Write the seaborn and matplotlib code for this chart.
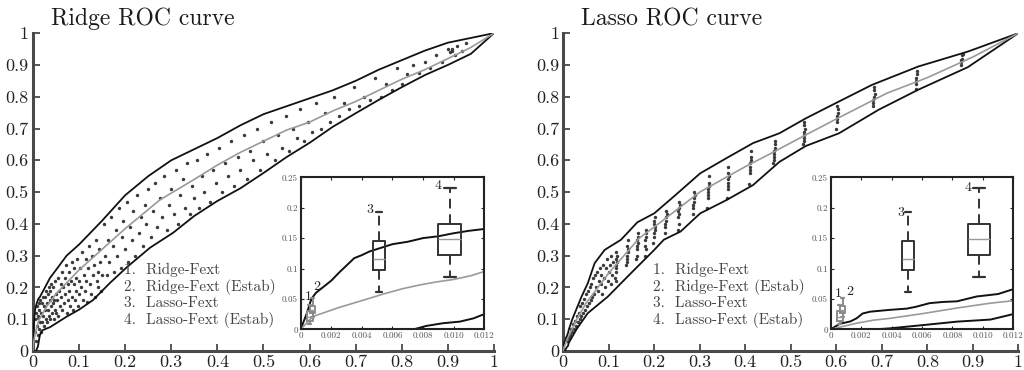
import numpy as np
import matplotlib
matplotlib.use("Agg")
import matplotlib.pyplot as plt
import seaborn as sns

# ---- curvas ROC (FPR, TPR): envolvente superior, inferior y media ----
ridge_up_x = [0, 0.0004, 0.0007, 0.001, 0.0015, 0.002, 0.0025, 0.003, 0.0035, 0.004, 0.0045, 0.005, 0.006,
              0.007, 0.008, 0.009, 0.01, 0.011, 0.012, 0.015, 0.025, 0.037, 0.05, 0.073, 0.1, 0.15, 0.2, 0.25,
              0.3, 0.35, 0.4, 0.45, 0.5, 0.55, 0.6, 0.65, 0.7, 0.75, 0.8, 0.85, 0.9, 0.95, 1]
ridge_up_y = [0, 0.026, 0.05, 0.06, 0.07, 0.08, 0.093, 0.105, 0.117, 0.122, 0.128, 0.132, 0.14,
              0.144, 0.15, 0.153, 0.158, 0.162, 0.165, 0.17, 0.197, 0.23, 0.255, 0.3, 0.335, 0.41, 0.49, 0.55,
              0.6, 0.635, 0.67, 0.71, 0.745, 0.77, 0.795, 0.82, 0.85, 0.885, 0.915, 0.945, 0.97, 0.985, 1]
ridge_lo_x = [0, 0.0074, 0.0082, 0.0093, 0.0104, 0.0113, 0.012, 0.015, 0.02, 0.037, 0.073, 0.1, 0.13, 0.167,
              0.204, 0.254, 0.304, 0.35, 0.4, 0.45, 0.5, 0.55, 0.6, 0.65, 0.7, 0.75, 0.8, 0.85, 0.9, 0.95, 1]
ridge_lo_y = [0, 0, 0.0055, 0.01, 0.0126, 0.018, 0.025, 0.05, 0.065, 0.075, 0.108, 0.13, 0.16, 0.214,
              0.264, 0.325, 0.372, 0.425, 0.472, 0.512, 0.56, 0.61, 0.655, 0.705, 0.748, 0.79, 0.83, 0.868,
              0.9, 0.935, 1]
ridge_mean_x = [0, 0.0008, 0.0024, 0.0045, 0.0054, 0.0067, 0.0078, 0.0089, 0.01, 0.0111, 0.012, 0.03, 0.05,
                0.1, 0.15, 0.2, 0.275, 0.35, 0.4, 0.45, 0.5, 0.55, 0.6, 0.65, 0.7, 0.75, 0.8, 0.85, 0.9, 0.95, 1]
ridge_mean_y = [0, 0.021, 0.035, 0.051, 0.058, 0.067, 0.073, 0.078, 0.082, 0.088, 0.095, 0.14, 0.18,
                0.255, 0.32, 0.385, 0.475, 0.54, 0.585, 0.625, 0.66, 0.695, 0.72, 0.755, 0.785, 0.82, 0.855,
                0.885, 0.92, 0.955, 1]

lasso_up_x = [0, 0.0006, 0.0013, 0.0017, 0.0021, 0.0026, 0.0039, 0.005, 0.0056, 0.0065, 0.0074, 0.0083,
              0.0096, 0.011, 0.012, 0.02, 0.04, 0.054, 0.069, 0.091, 0.127, 0.163, 0.2, 0.243, 0.301, 0.359,
              0.417, 0.475, 0.533, 0.599, 0.678, 0.78, 0.889, 1]
lasso_up_y = [0, 0.009, 0.013, 0.018, 0.026, 0.029, 0.032, 0.034, 0.037, 0.043, 0.045, 0.046,
              0.054, 0.058, 0.066, 0.1, 0.17, 0.213, 0.276, 0.318, 0.35, 0.405, 0.433, 0.486, 0.559, 0.607,
              0.654, 0.685, 0.732, 0.78, 0.837, 0.895, 0.942, 1]
lasso_lo_x = [0, 0.003, 0.0039, 0.0061, 0.0083, 0.0105, 0.012, 0.018, 0.03, 0.054, 0.098, 0.149, 0.2, 0.221,
              0.258, 0.301, 0.359, 0.417, 0.475, 0.533, 0.606, 0.693, 0.78, 0.889, 1]
lasso_lo_y = [0, 0, 0.0016, 0.007, 0.0126, 0.016, 0.025, 0.04, 0.07, 0.119, 0.171, 0.245, 0.318, 0.35,
              0.376, 0.433, 0.475, 0.522, 0.595, 0.645, 0.685, 0.759, 0.822, 0.893, 1]
lasso_mean_x = [0, 0.0017, 0.0028, 0.0039, 0.0061, 0.0083, 0.0105, 0.012, 0.03, 0.05, 0.1, 0.167, 0.2, 0.3,
                0.4, 0.457, 0.5, 0.6, 0.711, 0.8, 0.9, 1]
lasso_mean_y = [0, 0.01, 0.015, 0.018, 0.026, 0.035, 0.043, 0.047, 0.1, 0.15, 0.245, 0.355, 0.39, 0.5,
                0.58, 0.622, 0.655, 0.73, 0.811, 0.86, 0.925, 1]

# ---- puntos individuales (FPR, TPR) ----
ridge_pts = [
    (0.004, 0.06), (0.005, 0.1), (0.006, 0.03), (0.007, 0.12), (0.008, 0.08), (0.009, 0.14), (0.01, 0.05),
    (0.011, 0.11), (0.012, 0.15), (0.013, 0.07), (0.014, 0.13), (0.015, 0.09), (0.016, 0.16), (0.017, 0.06),
    (0.018, 0.12), (0.019, 0.15), (0.02, 0.09), (0.021, 0.17), (0.022, 0.11), (0.023, 0.14),
    (0.025, 0.08), (0.026, 0.17), (0.027, 0.13), (0.028, 0.19), (0.029, 0.1), (0.03, 0.15), (0.031, 0.09),
    (0.032, 0.18), (0.033, 0.13), (0.034, 0.2), (0.035, 0.11), (0.036, 0.16), (0.037, 0.19), (0.038, 0.1),
    (0.039, 0.14), (0.04, 0.21), (0.041, 0.12), (0.042, 0.17), (0.043, 0.15), (0.044, 0.2), (0.045, 0.1),
    (0.046, 0.16), (0.047, 0.13), (0.048, 0.22), (0.049, 0.18), (0.05, 0.12),
    (0.052, 0.16), (0.054, 0.23), (0.055, 0.11), (0.057, 0.19), (0.058, 0.14), (0.06, 0.21), (0.061, 0.17),
    (0.063, 0.25), (0.064, 0.13), (0.066, 0.2), (0.067, 0.15), (0.069, 0.23), (0.07, 0.18), (0.072, 0.27),
    (0.073, 0.12), (0.075, 0.21), (0.076, 0.16), (0.078, 0.25), (0.079, 0.19), (0.081, 0.14), (0.082, 0.22),
    (0.084, 0.28), (0.085, 0.17), (0.087, 0.13), (0.088, 0.21), (0.09, 0.26), (0.091, 0.16), (0.093, 0.23),
    (0.094, 0.19), (0.096, 0.29), (0.097, 0.14), (0.099, 0.22), (0.1, 0.18),
    (0.102, 0.26), (0.104, 0.2), (0.106, 0.31), (0.108, 0.16), (0.11, 0.24), (0.112, 0.19), (0.114, 0.29),
    (0.116, 0.22), (0.118, 0.155), (0.12, 0.26), (0.122, 0.33), (0.124, 0.21), (0.126, 0.18), (0.128, 0.3),
    (0.13, 0.24), (0.132, 0.27), (0.134, 0.17), (0.136, 0.35), (0.138, 0.22), (0.14, 0.25), (0.142, 0.2),
    (0.144, 0.32), (0.146, 0.28), (0.148, 0.19), (0.15, 0.24),
    (0.154, 0.4), (0.157, 0.3), (0.16, 0.24), (0.163, 0.35), (0.166, 0.28), (0.17, 0.42), (0.173, 0.33),
    (0.176, 0.25), (0.18, 0.38), (0.183, 0.3), (0.186, 0.45), (0.19, 0.26), (0.193, 0.36), (0.196, 0.41),
    (0.2, 0.32), (0.203, 0.47), (0.207, 0.28), (0.21, 0.39), (0.214, 0.35), (0.218, 0.44), (0.222, 0.3),
    (0.226, 0.49), (0.23, 0.37), (0.234, 0.42), (0.238, 0.33), (0.242, 0.46), (0.246, 0.4), (0.25, 0.51),
    (0.255, 0.36), (0.26, 0.44), (0.265, 0.53), (0.27, 0.39), (0.275, 0.48), (0.28, 0.42), (0.285, 0.55),
    (0.29, 0.38), (0.295, 0.46), (0.3, 0.51), (0.305, 0.43), (0.31, 0.57), (0.315, 0.4), (0.32, 0.49),
    (0.325, 0.54), (0.33, 0.45), (0.335, 0.59), (0.34, 0.43), (0.345, 0.52), (0.35, 0.48), (0.355, 0.6),
    (0.36, 0.45), (0.366, 0.55), (0.372, 0.5), (0.378, 0.62), (0.384, 0.47), (0.39, 0.57), (0.396, 0.53),
    (0.403, 0.64), (0.41, 0.5), (0.417, 0.59), (0.424, 0.55), (0.43, 0.66), (0.437, 0.52), (0.444, 0.61),
    (0.45, 0.57), (0.457, 0.68), (0.464, 0.54), (0.47, 0.63), (0.478, 0.6), (0.485, 0.7), (0.492, 0.57),
    (0.5, 0.66), (0.508, 0.62), (0.516, 0.72), (0.524, 0.6), (0.532, 0.68), (0.54, 0.64), (0.548, 0.74),
    (0.556, 0.63), (0.564, 0.7), (0.572, 0.67), (0.58, 0.76), (0.588, 0.66), (0.596, 0.72),
    (0.606, 0.69), (0.615, 0.78), (0.624, 0.7), (0.634, 0.75), (0.644, 0.72), (0.654, 0.8), (0.664, 0.74),
    (0.674, 0.78), (0.685, 0.76), (0.696, 0.83), (0.707, 0.77), (0.718, 0.8), (0.73, 0.79), (0.742, 0.86),
    (0.754, 0.8), (0.766, 0.84), (0.778, 0.82), (0.79, 0.89), (0.8, 0.84),
    (0.812, 0.87), (0.825, 0.9), (0.838, 0.875), (0.85, 0.91), (0.862, 0.89), (0.875, 0.93), (0.888, 0.91),
    (0.9, 0.95), (0.905, 0.94), (0.908, 0.945), (0.91, 0.95), (0.915, 0.93), (0.92, 0.96), (0.93, 0.945),
    (0.94, 0.97),
]

lasso_pts = [
    (0.008, 0.03), (0.01, 0.045), (0.012, 0.04), (0.014, 0.055), (0.016, 0.05), (0.018, 0.07), (0.02, 0.06),
    (0.022, 0.085), (0.024, 0.07), (0.026, 0.095), (0.028, 0.08), (0.03, 0.11), (0.032, 0.09), (0.034, 0.12),
    (0.036, 0.1), (0.038, 0.14), (0.04, 0.11), (0.042, 0.15), (0.044, 0.12), (0.046, 0.165), (0.048, 0.13),
    (0.05, 0.18), (0.052, 0.14), (0.054, 0.19), (0.056, 0.15), (0.058, 0.2), (0.06, 0.16), (0.062, 0.21),
    (0.064, 0.17), (0.066, 0.23), (0.068, 0.18), (0.07, 0.24), (0.072, 0.2), (0.074, 0.25), (0.076, 0.19),
    (0.078, 0.22), (0.08, 0.26), (0.082, 0.21), (0.084, 0.24), (0.086, 0.18), (0.088, 0.27), (0.09, 0.23),
    (0.092, 0.2), (0.094, 0.26), (0.096, 0.29), (0.098, 0.22), (0.1, 0.25), (0.102, 0.27), (0.104, 0.21),
    (0.106, 0.3), (0.108, 0.24), (0.11, 0.28),
    (0.114, 0.23), (0.115, 0.26), (0.116, 0.29), (0.117, 0.31), (0.116, 0.25), (0.118, 0.28), (0.115, 0.22),
    (0.117, 0.27), (0.119, 0.3),
    (0.139, 0.27), (0.14, 0.3), (0.141, 0.33), (0.142, 0.35), (0.14, 0.29), (0.143, 0.32), (0.141, 0.28),
    (0.142, 0.31),
    (0.161, 0.29), (0.162, 0.32), (0.163, 0.35), (0.164, 0.37), (0.162, 0.3), (0.165, 0.34), (0.163, 0.33),
    (0.164, 0.36),
    (0.179, 0.3), (0.18, 0.33), (0.181, 0.36), (0.182, 0.38), (0.18, 0.35), (0.183, 0.37), (0.181, 0.32),
    (0.198, 0.34), (0.199, 0.37), (0.2, 0.4), (0.201, 0.42), (0.199, 0.36), (0.202, 0.39), (0.2, 0.41),
    (0.201, 0.38),
    (0.223, 0.37), (0.224, 0.4), (0.225, 0.42), (0.226, 0.44), (0.224, 0.39), (0.227, 0.43), (0.225, 0.41),
    (0.252, 0.38), (0.253, 0.42), (0.254, 0.45), (0.255, 0.47), (0.253, 0.44), (0.256, 0.46), (0.254, 0.43),
    (0.255, 0.4),
    (0.285, 0.43), (0.286, 0.46), (0.287, 0.48), (0.288, 0.5), (0.286, 0.45), (0.289, 0.49), (0.287, 0.47),
    (0.317, 0.45), (0.318, 0.49), (0.319, 0.51), (0.32, 0.53), (0.318, 0.5), (0.321, 0.52), (0.319, 0.48),
    (0.32, 0.55),
    (0.36, 0.48), (0.361, 0.52), (0.362, 0.54), (0.363, 0.56), (0.361, 0.53), (0.364, 0.55), (0.362, 0.51),
    (0.363, 0.58),
    (0.409, 0.525), (0.41, 0.56), (0.411, 0.59), (0.412, 0.61), (0.41, 0.58), (0.413, 0.6), (0.411, 0.57),
    (0.412, 0.63),
    (0.462, 0.59), (0.463, 0.6), (0.464, 0.62), (0.465, 0.64), (0.463, 0.61), (0.466, 0.66), (0.464, 0.63),
    (0.465, 0.65),
    (0.527, 0.65), (0.528, 0.67), (0.529, 0.69), (0.53, 0.71), (0.528, 0.68), (0.531, 0.7), (0.529, 0.66),
    (0.53, 0.72),
    (0.6, 0.7), (0.601, 0.72), (0.602, 0.74), (0.603, 0.76), (0.601, 0.73), (0.604, 0.75), (0.602, 0.77),
    (0.68, 0.77), (0.681, 0.79), (0.682, 0.8), (0.683, 0.82), (0.681, 0.78), (0.684, 0.81), (0.682, 0.83),
    (0.774, 0.825), (0.775, 0.84), (0.776, 0.85), (0.777, 0.87), (0.775, 0.86), (0.778, 0.88),
    (0.874, 0.9), (0.875, 0.91), (0.876, 0.92), (0.877, 0.93), (0.875, 0.915), (0.878, 0.935),
]

# ---- cajas del recuadro (FPR de cada método) ----
box_names = ["1", "2", "3", "4"]
box_pos = [0.0006, 0.00078, 0.0051, 0.00975]
box_whislo = [0.009, 0.021, 0.061, 0.086]
box_q1 = [0.013, 0.026, 0.097, 0.122]
box_med = [0.021, 0.032, 0.116, 0.149]
box_q3 = [0.03, 0.038, 0.146, 0.174]
box_whishi = [0.04, 0.052, 0.193, 0.232]

legend_lines = ["1.  Ridge-Fext", "2.  Ridge-Fext (Estab)", "3.  Lasso-Fext", "4.  Lasso-Fext (Estab)"]

main_ticks = [0, 0.1, 0.2, 0.3, 0.4, 0.5, 0.6, 0.7, 0.8, 0.9, 1]
main_ticklabels = ["0", "0.1", "0.2", "0.3", "0.4", "0.5", "0.6", "0.7", "0.8", "0.9", "1"]
inset_xticks = [0, 0.002, 0.004, 0.006, 0.008, 0.010, 0.012]
inset_xticklabels = ["0", "0.002", "0.004", "0.006", "0.008", "0.010", "0.012"]
inset_yticks = [0, 0.05, 0.1, 0.15, 0.2, 0.25]
inset_yticklabels = ["0", "0.05", "0.1", "0.15", "0.2", "0.25"]

sns.set_style("ticks")
plt.rcParams["font.family"] = ["cmr10", "DejaVu Serif"]
plt.rcParams["axes.formatter.use_mathtext"] = True

SPINE = "#4a4a4a"


def graficar_panel(fig, rect, rect_in, titulo, up, lo, mean, pts, num_pos):
    ax = fig.add_axes(rect)
    px, py = zip(*pts)
    sns.scatterplot(x=list(px), y=list(py), ax=ax, s=6, marker="o", color="#3a3a3a",
                    linewidth=0, legend=False, zorder=2)
    for (cx, cy), col, lw in [(up, "#111111", 1.3), (lo, "#111111", 1.3), (mean, "#9a9a9a", 1.2)]:
        sns.lineplot(x=cx, y=cy, ax=ax, color=col, linewidth=lw, estimator=None, sort=False,
                     legend=False, zorder=3)
    ax.set_xlim(0, 1)
    ax.set_ylim(0, 1)
    ax.set_xticks(main_ticks, main_ticklabels)
    ax.set_yticks(main_ticks, main_ticklabels)
    sns.despine(ax=ax)
    for s in ["left", "bottom"]:
        ax.spines[s].set_color(SPINE)
        ax.spines[s].set_linewidth(2.2)
    ax.tick_params(direction="in", length=5, width=1.3, color=SPINE, labelsize=13,
                   labelcolor="#222222", pad=3)
    ax.text(0.04, 1.025, titulo, transform=ax.transAxes, fontsize=17, ha="left",
            va="baseline", color="#1a1a1a")
    for i, linea in enumerate(legend_lines):
        ax.text(0.197, 0.255 - i * 0.053, linea, fontsize=11, color="#444444",
                ha="left", va="center")

    # recuadro con la zona de FPR baja
    axi = fig.add_axes(rect_in, zorder=5)
    axi.set_facecolor("white")
    for (cx, cy), col, lw in [(up, "#111111", 1.4), (lo, "#111111", 1.4), (mean, "#9a9a9a", 1.2)]:
        sns.lineplot(x=cx, y=cy, ax=axi, color=col, linewidth=lw, estimator=None, sort=False,
                     legend=False)
    anchos = [0.00037, 0.00037, 0.0008, 0.0015]
    colores = ["#8a8a8a", "#8a8a8a", "#333333", "#333333"]
    for i in range(4):
        c = colores[i]
        stats = dict(label=box_names[i], whislo=box_whislo[i], q1=box_q1[i], med=box_med[i],
                     q3=box_q3[i], whishi=box_whishi[i])
        axi.bxp([stats], positions=[box_pos[i]], widths=[anchos[i]], capwidths=[anchos[i] * 0.5],
                showfliers=False, manage_ticks=False,
                boxprops=dict(color=c, linewidth=1.4),
                medianprops=dict(color="#9a9a9a", linewidth=1.0),
                whiskerprops=dict(color=c, linewidth=1.4, linestyle=(0, (5, 3))),
                capprops=dict(color=c, linewidth=1.6))
        axi.text(num_pos[i][0], num_pos[i][1], box_names[i], fontsize=10, ha="center",
                 va="center", color="#222222")
    axi.set_xlim(0, 0.012)
    axi.set_ylim(0, 0.25)
    axi.set_xticks(inset_xticks, inset_xticklabels)
    axi.set_yticks(inset_yticks, inset_yticklabels)
    for s in axi.spines.values():
        s.set_visible(True)
        s.set_color("#222222")
        s.set_linewidth(1.5)
    axi.tick_params(direction="in", length=2.5, width=0.8, labelsize=6.5, labelcolor="#555555",
                    top=True, right=True, pad=2)
    return ax, axi


fig = plt.figure(figsize=(10.24, 3.7), dpi=100)

graficar_panel(fig, [0.0322, 0.0514, 0.4502, 0.859], [0.2936, 0.11, 0.1793, 0.4108], "Ridge ROC curve",
               (ridge_up_x, ridge_up_y), (ridge_lo_x, ridge_lo_y), (ridge_mean_x, ridge_mean_y), ridge_pts,
               [(0.0005, 0.054), (0.00105, 0.07), (0.0045, 0.197), (0.009, 0.236)])
graficar_panel(fig, [0.55, 0.0514, 0.4445, 0.859], [0.8112, 0.11, 0.1783, 0.4108], "Lasso ROC curve",
               (lasso_up_x, lasso_up_y), (lasso_lo_x, lasso_lo_y), (lasso_mean_x, lasso_mean_y), lasso_pts,
               [(0.0005, 0.058), (0.00123, 0.061), (0.0046, 0.192), (0.009, 0.232)])

fig.savefig("out.png", dpi=100)
